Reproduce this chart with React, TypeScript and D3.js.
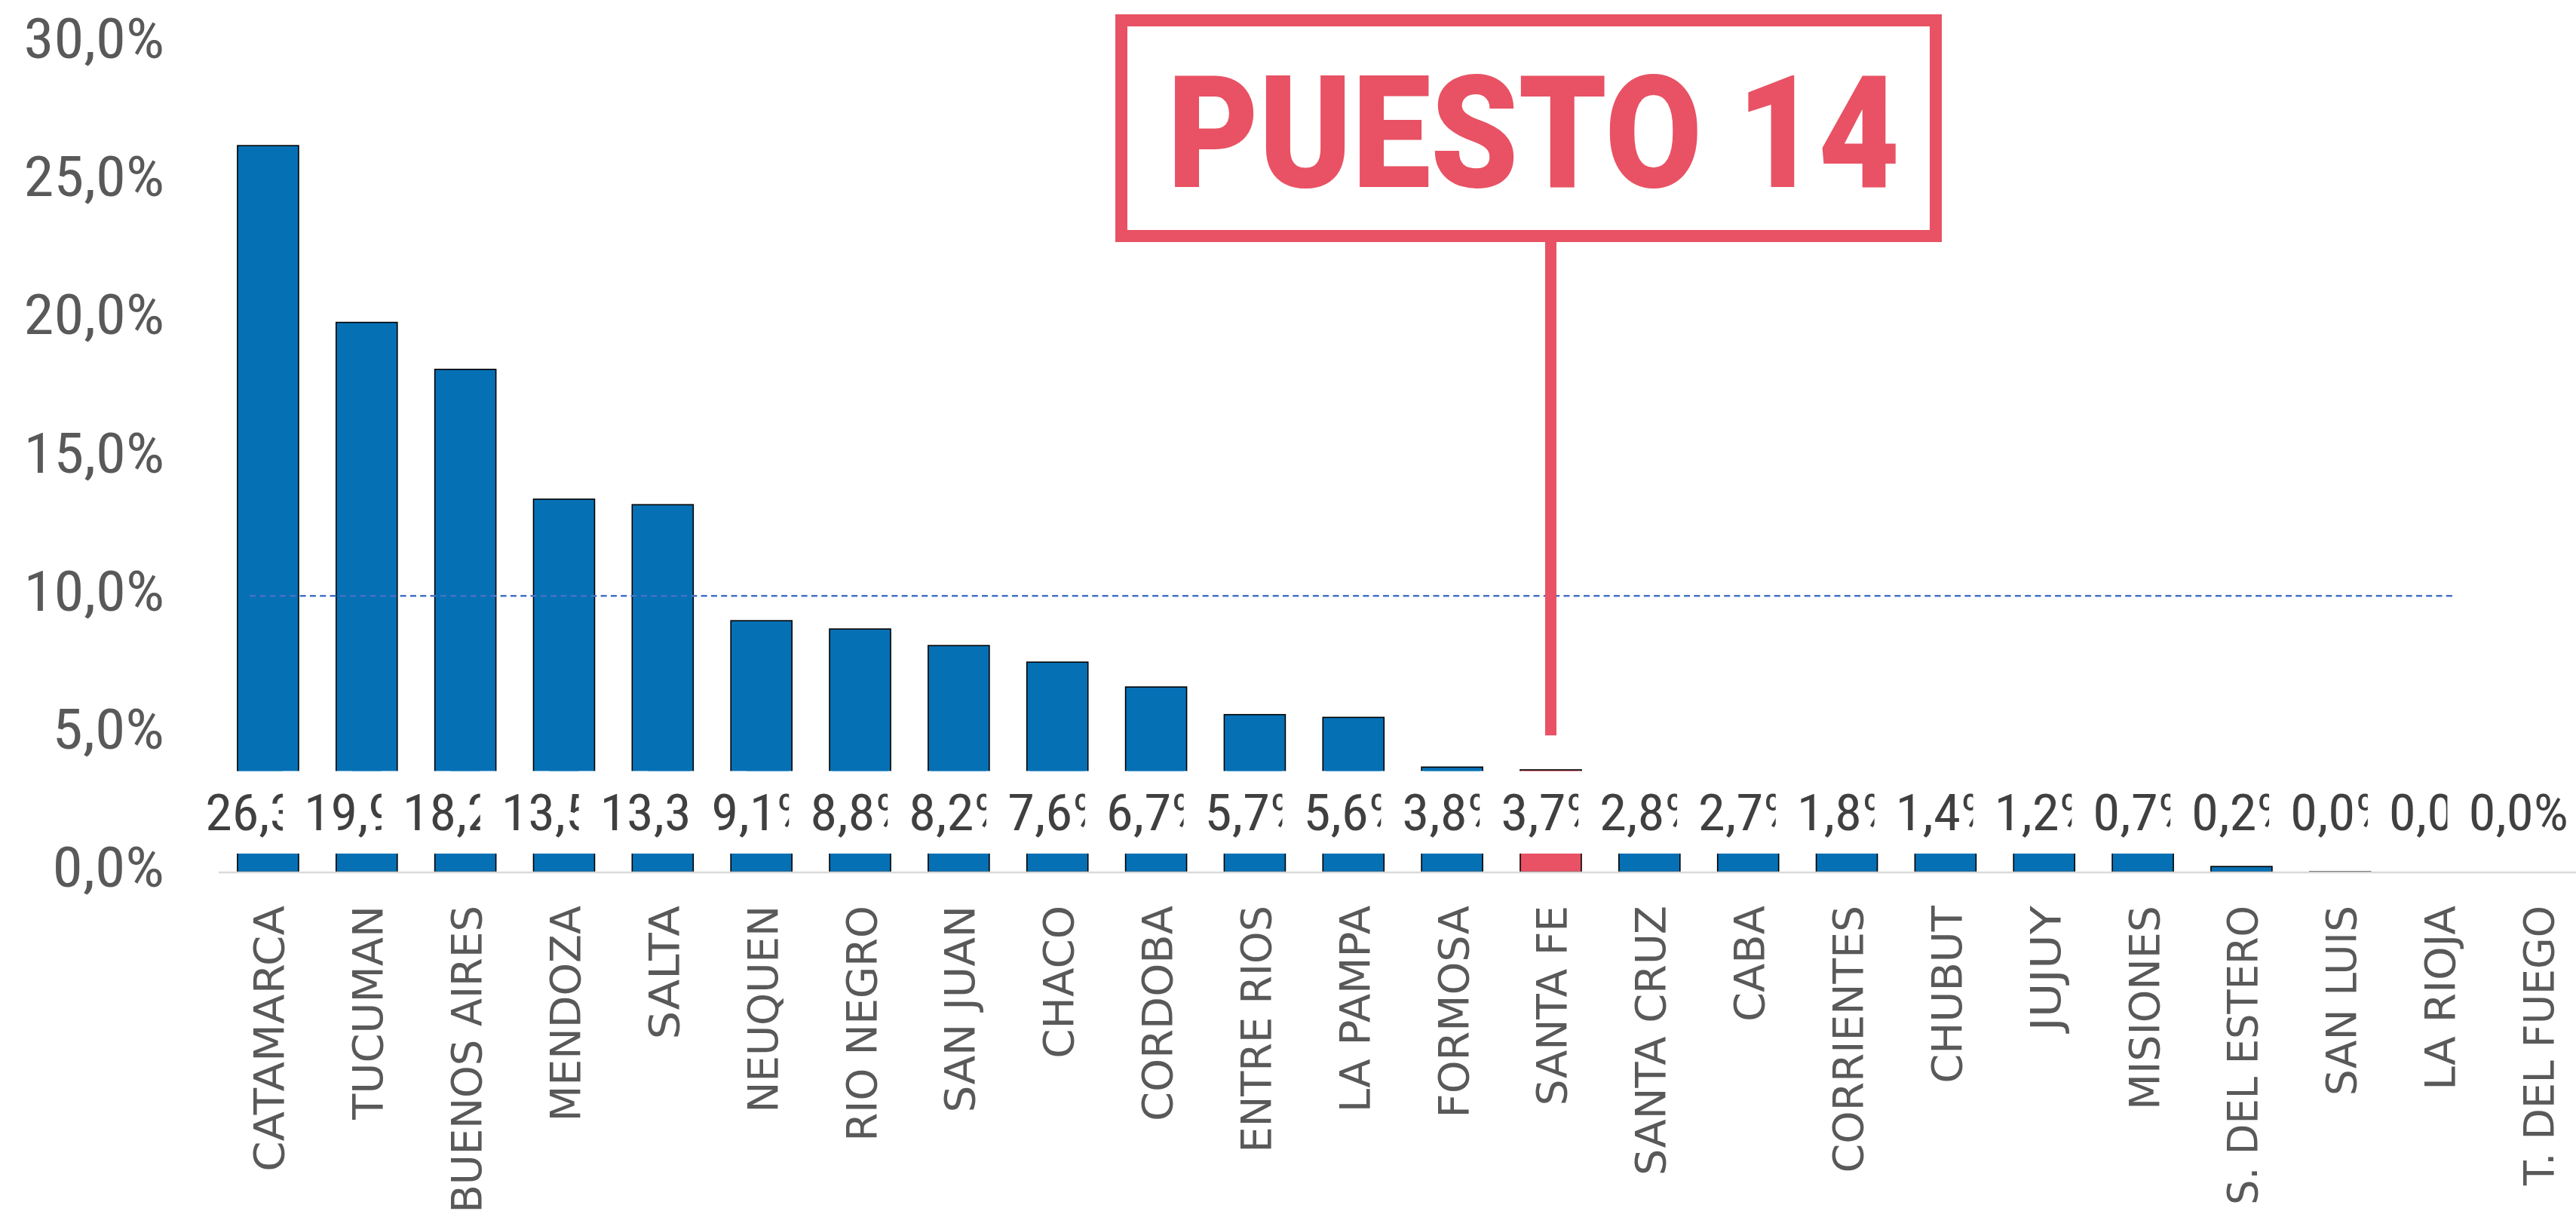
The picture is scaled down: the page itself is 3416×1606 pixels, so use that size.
import React, { useEffect } from "react";
import * as d3 from "d3";

const categories = [
  "CATAMARCA", "TUCUMAN", "BUENOS AIRES", "MENDOZA", "SALTA", "NEUQUEN",
  "RIO NEGRO", "SAN JUAN", "CHACO", "CORDOBA", "ENTRE RIOS", "LA PAMPA",
  "FORMOSA", "SANTA FE", "SANTA CRUZ", "CABA", "CORRIENTES", "CHUBUT",
  "JUJUY", "MISIONES", "S. DEL ESTERO", "SAN LUIS", "LA RIOJA", "T. DEL FUEGO",
];
const values = [
  26.3, 19.9, 18.2, 13.5, 13.3, 9.1, 8.8, 8.2, 7.6, 6.7, 5.7, 5.6,
  3.8, 3.7, 2.8, 2.7, 1.8, 1.4, 1.2, 0.7, 0.2, 0.01, 0, 0,
];
const yTicks = [0, 5, 10, 15, 20, 25, 30];
const highlight = "SANTA FE";
const annotationText = "PUESTO 14";
const threshold = 10;
const thresholdEnd = "LA RIOJA";

const W = 3416;
const H = 1606;
const BLUE = "#0670B4";
const RED = "#E85264";

const fmt = (v: number) => d3.format(".1f")(v).replace(".", ",") + "%";
// Calibri-like advance widths (em)
const textW = (s: string, size: number) =>
  s.split("").reduce((a, ch) => a + (ch === "," || ch === "." ? 0.25 : ch === "%" ? 0.715 : 0.507), 0) * size;

// geometric sans advance widths (em) for the category labels
const capW: Record<string, number> = {
  A: 0.684, B: 0.686, C: 0.698, D: 0.77, E: 0.58, F: 0.575, G: 0.775, H: 0.752,
  I: 0.295, J: 0.45, K: 0.656, L: 0.557, M: 0.863, N: 0.748, O: 0.787, P: 0.603,
  Q: 0.787, R: 0.695, S: 0.635, T: 0.611, U: 0.732, V: 0.684, W: 0.989, X: 0.685,
  Y: 0.611, Z: 0.685, " ": 0.22, ".": 0.22,
};
const catW = (s: string, size: number) =>
  s.split("").reduce((a, ch) => a + (capW[ch] ?? 0.6), 0) * size;

const NUM_FONT = "'Liberation Sans Narrow', 'Arial Narrow', 'Roboto Condensed', 'Liberation Sans', sans-serif";

export default function App() {
  useEffect(() => {
    document.body.style.margin = "0";
    document.body.style.overflow = "hidden";
  }, []);

  const x = d3
    .scaleBand<string>()
    .domain(categories)
    .range([290, 3430.4])
    .paddingInner(0.381)
    .paddingOuter(0.1905);
  const bw = x.bandwidth();
  const y = d3.scaleLinear().domain([0, 30]).range([1156.5, 57.6]);

  const labelSize = 67;
  const yLabelSize = 75;
  const catSize = 56;
  const bandTop = 1022.7;
  const bandBottom = 1132;
  const pad = 28;

  const hx = (x(highlight) as number) + bw / 2;

  return (
    <svg
      width={W}
      height={H}
      style={{ position: "absolute", left: 0, top: 0, display: "block", background: "#fff" }}
    >
      <rect x={0} y={0} width={W} height={H} fill="#fff" />

      {/* y axis labels */}
      {yTicks.map((t) => {
        const s = fmt(t);
        return (
          <text
            key={t}
            x={218}
            y={y(t) + 19.5}
            textAnchor="end"
            fontFamily={NUM_FONT}
            fontSize={yLabelSize}
            fill="#595959"
            textLength={textW(s, yLabelSize)}
            lengthAdjust="spacingAndGlyphs"
          >
            {s}
          </text>
        );
      })}

      {/* bars */}
      {categories.map((c, i) =>
        values[i] > 0 ? (
          <rect
            key={c}
            x={x(c)}
            y={y(values[i])}
            width={bw}
            height={y(0) - y(values[i])}
            fill={c === highlight ? RED : BLUE}
            stroke="#000"
            strokeWidth={1.6}
          />
        ) : null
      )}

      {/* axis line */}
      <line x1={290} x2={W} y1={y(0) + 0.5} y2={y(0) + 0.5} stroke="#D9D9D9" strokeWidth={2.5} />

      {/* threshold dashed line */}
      <line
        x1={(x(categories[0]) as number) + bw * 0.2}
        x2={(x(thresholdEnd) as number) + bw * 0.76}
        y1={y(threshold)}
        y2={y(threshold)}
        stroke="#4472C4"
        strokeWidth={2.6}
        strokeDasharray="8 5.3"
      />

      {/* data labels with white boxes */}
      {categories.map((c, i) => {
        const s = fmt(values[i]);
        const tw = textW(s, labelSize);
        let cx = (x(c) as number) + bw / 2;
        cx = Math.min(cx, W - 10 - tw / 2);
        return (
          <g key={c}>
            <rect
              x={cx - tw / 2 - pad}
              y={bandTop}
              width={tw + pad * 2}
              height={bandBottom - bandTop}
              fill="#fff"
            />
            <text
              x={cx - tw / 2}
              y={1100.7}
              fontFamily={NUM_FONT}
              fontSize={labelSize}
              fill="#404040"
              textLength={tw}
              lengthAdjust="spacingAndGlyphs"
            >
              {s}
            </text>
          </g>
        );
      })}

      {/* category labels (rotated, top-aligned under the axis) */}
      {categories.map((c) => {
        const cx = (x(c) as number) + bw / 2 + 21;
        const len = catW(c, catSize);
        return (
          <text
            key={c}
            transform={`translate(${cx},${1201 + len}) rotate(-90)`}
            textAnchor="start"
            fontFamily="'DejaVu Sans', Verdana, sans-serif"
            fontSize={catSize}
            fill="#595959"
            textLength={len}
            lengthAdjust="spacingAndGlyphs"
          >
            {c}
          </text>
        );
      })}

      {/* annotation */}
      <line x1={hx} x2={hx} y1={321} y2={y(5) + 2} stroke={RED} strokeWidth={15} />
      <rect x={1487} y={27} width={1080} height={286} fill="#fff" stroke={RED} strokeWidth={16} />
      <text
        x={1548}
        y={248}
        fontFamily="Roboto, 'Open Sans', sans-serif"
        fontWeight={900}
        fontSize={207}
        fill={RED}
        textLength={971}
        lengthAdjust="spacingAndGlyphs"
      >
        {annotationText}
      </text>
    </svg>
  );
}
